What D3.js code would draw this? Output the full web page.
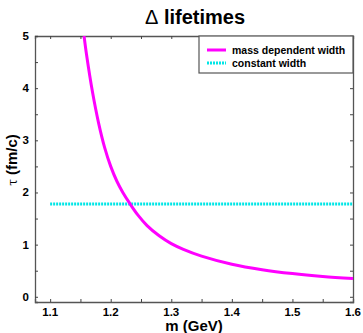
<!DOCTYPE html>
<html><head><meta charset="utf-8">
<script src="https://cdn.jsdelivr.net/npm/d3@7/dist/d3.min.js"></script>
<style>body{margin:0;background:#fff}svg{display:block}</style>
</head><body>
<script>
const massValues = [1.156, 1.16, 1.17, 1.18, 1.19, 1.20, 1.21, 1.22, 1.232, 1.245, 1.26, 1.28, 1.30, 1.32, 1.35, 1.40, 1.45, 1.50, 1.55, 1.60];
const tauMassDependent = [5.0, 4.65, 3.92, 3.33, 2.86, 2.50, 2.22, 2.00, 1.78, 1.565, 1.365, 1.17, 1.02, 0.91, 0.78, 0.625, 0.52, 0.445, 0.39, 0.35];
const constMass = [1.1, 1.6];
const tauConstant = [1.78, 1.78];
const xTickValues = [1.1, 1.2, 1.3, 1.4, 1.5, 1.6];
const yTickValues = [0, 1, 2, 3, 4, 5];
const seriesNames = ["mass dependent width", "constant width"];

const W = 363, H = 333;
const L = 35, R = 353, T = 36, B = 302;
const svg = d3.select("body").append("svg").attr("width", W).attr("height", H);
const x = d3.scaleLinear().domain([1.075, 1.6]).range([L, R]);
const y = d3.scaleLinear().domain([-0.1, 5]).range([B, T]);

const font = "'Liberation Sans', Arial, sans-serif";
const minorX = d3.range(1.1, 1.601, 0.05);
const minorY = d3.range(0, 5.01, 0.5);

const tl = 3;
svg.append("g").attr("transform", `translate(0,${B})`)
  .call(d3.axisBottom(x).tickValues(minorX).tickSize(-tl).tickFormat(""));
svg.append("g").attr("transform", `translate(0,${T})`)
  .call(d3.axisTop(x).tickValues(minorX).tickSize(-tl).tickFormat(""));
svg.append("g").attr("transform", `translate(${L},0)`)
  .call(d3.axisLeft(y).tickValues(minorY).tickSize(-tl).tickFormat(""));
svg.append("g").attr("transform", `translate(${R},0)`)
  .call(d3.axisRight(y).tickValues(minorY).tickSize(-tl).tickFormat(""));
svg.selectAll(".domain").attr("stroke", "#555").attr("stroke-width", 1.3);
svg.selectAll(".tick line").attr("stroke", "#444");

svg.append("g").selectAll("text").data(xTickValues).join("text")
  .attr("x", d => x(d)).attr("y", 316).attr("text-anchor", "middle")
  .attr("font-family", font).attr("font-weight", "bold").attr("font-size", 11.5)
  .text(d => d.toFixed(1));
svg.append("g").selectAll("text").data(yTickValues).join("text")
  .attr("x", 29).attr("y", d => y(d) + 4).attr("text-anchor", "end")
  .attr("font-family", font).attr("font-weight", "bold").attr("font-size", 11.5)
  .text(d => d);

const title = svg.append("text").attr("x", 195).attr("y", 24).attr("text-anchor", "middle")
  .attr("font-family", font).attr("font-weight", "bold").attr("font-size", 20);
title.append("tspan").attr("font-weight", "normal").text("Δ");
title.append("tspan").text(" lifetimes");

svg.append("text").attr("x", 194).attr("y", 331).attr("text-anchor", "middle")
  .attr("font-family", font).attr("font-weight", "bold").attr("font-size", 15)
  .text("m (GeV)");
const yl = svg.append("text").attr("transform", "translate(17,160) rotate(-90)")
  .attr("text-anchor", "middle").attr("font-family", font).attr("font-size", 15);
yl.append("tspan").attr("font-family", "'DejaVu Serif', serif").attr("font-size", 12).text("τ");
yl.append("tspan").attr("font-weight", "bold").text(" (fm/c)");

svg.append("clipPath").attr("id", "clip").append("rect")
  .attr("x", L).attr("y", T).attr("width", R - L).attr("height", B - T);

const line = d3.line().x(d => x(d[0])).y(d => y(d[1]));
svg.append("path").attr("clip-path", "url(#clip)")
  .datum(constMass.map((m, i) => [m, tauConstant[i]]))
  .attr("d", line).attr("fill", "none").attr("stroke", "#00e6e6")
  .attr("stroke-width", 3).attr("stroke-dasharray", "2,1");
svg.append("path").attr("clip-path", "url(#clip)")
  .datum(massValues.map((m, i) => [m, tauMassDependent[i]]))
  .attr("d", d3.line().x(d => x(d[0])).y(d => y(d[1])).curve(d3.curveCatmullRom.alpha(0.5)))
  .attr("fill", "none").attr("stroke", "#ff00ff").attr("stroke-width", 3);

const lg = svg.append("g");
lg.append("rect").attr("x", 199).attr("y", T).attr("width", R - 199).attr("height", 37)
  .attr("fill", "#fff").attr("stroke", "#555").attr("stroke-width", 1.2);
const colors = ["#ff00ff", "#00e6e6"];
const dashes = [null, "2,1"];
seriesNames.forEach((name, i) => {
  const yy = 50 + i * 13;
  lg.append("line").attr("x1", 207).attr("x2", 226).attr("y1", yy).attr("y2", yy)
    .attr("stroke", colors[i]).attr("stroke-width", 3).attr("stroke-dasharray", dashes[i]);
  lg.append("text").attr("x", 232).attr("y", yy + 4).attr("font-family", font)
    .attr("font-weight", "bold").attr("font-size", 10.5).text(name);
});
</script>
</body></html>
